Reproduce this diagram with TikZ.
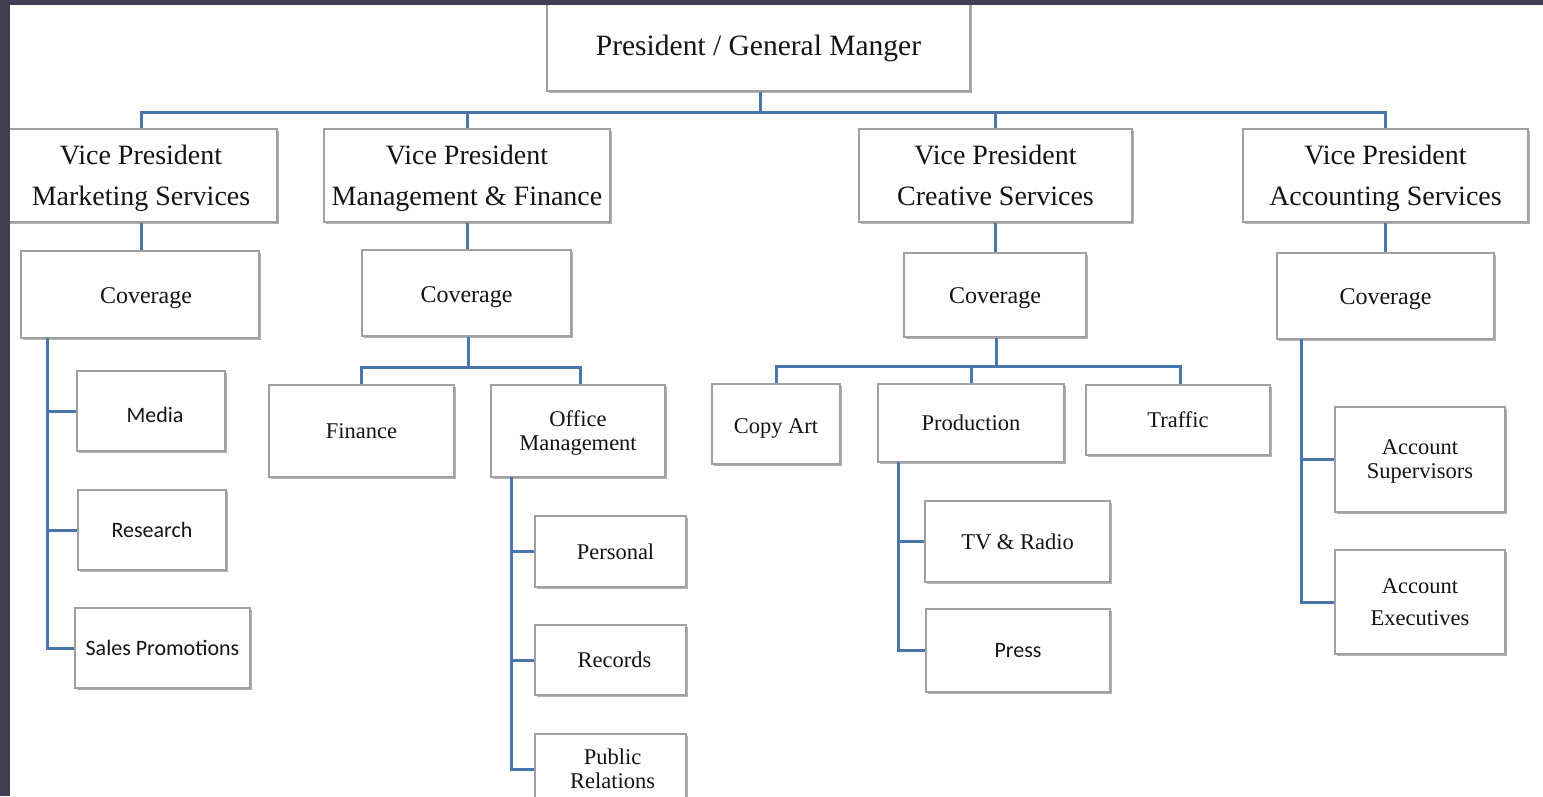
\documentclass[tikz,border=0pt]{standalone}
\usepackage{fontspec}
\setmainfont{Liberation Serif}
\newfontfamily\calfont{Carlito}
\usetikzlibrary{shadows}
\definecolor{bandcol}{RGB}{64,62,82}
\definecolor{linkblue}{RGB}{74,118,176}
\definecolor{boxline}{RGB}{160,160,160}
\definecolor{txt}{RGB}{20,20,20}
% lower a one-line text: #1 = extra height, #2 = text
\newcommand\lowtxt[2]{\raisebox{0pt}[\dimexpr\height+#1\relax][0pt]{#2}}
\tikzset{
  box/.style={draw=boxline, line width=1.1pt, fill=white, inner sep=0pt, align=center, text=txt,
    drop shadow={shadow xshift=1.8pt, shadow yshift=-2.2pt, fill=black, opacity=0.3},
    font=\fontsize{22.5}{24}\selectfont},
  vpbox/.style={box, font=\fontsize{28}{41}\selectfont},
  covbox/.style={box, font=\fontsize{24}{26}\selectfont},
  sansbox/.style={box, font=\calfont\fontsize{22}{24}\selectfont},
  conn/.style={draw=linkblue, line width=3pt}
}
\begin{document}
\begin{tikzpicture}[x=1pt,y=-1pt]
\useasboundingbox (0,0) rectangle (1543,796);
\clip (0,0) rectangle (1543,796);
\fill[white] (0,0) rectangle (1543,796);

% nodes
\node[box, font=\fontsize{29.5}{30}\selectfont, minimum width=423, minimum height=88] (pres) at (758.5,47) {\raisebox{0pt}[\height][3pt]{President / General Manger}};

\node[vpbox, minimum width=272, minimum height=93] (vp1) at (141,175.5) {Vice President\\\smash{Marketing Services}};
\node[vpbox, minimum width=286, minimum height=93] (vp2) at (467,175.5) {Vice President\\\smash{Management \& Finance}};
\node[vpbox, minimum width=273, minimum height=93] (vp3) at (995.5,175.5) {Vice President\\\smash{Creative Services}};
\node[vpbox, minimum width=285, minimum height=93] (vp4) at (1385.5,175.5) {Vice President\\\smash{Accounting Services}};

\node[covbox, minimum width=238, minimum height=87] (cov1) at (140,294.5) {\hspace*{12pt}\lowtxt{3pt}{Coverage}};
\node[covbox, minimum width=209, minimum height=86] (cov2) at (466.5,293) {\lowtxt{3pt}{Coverage}};
\node[covbox, minimum width=182, minimum height=84] (cov3) at (995,295) {\lowtxt{2pt}{Coverage}};
\node[covbox, minimum width=217, minimum height=86] (cov4) at (1385.5,296) {\lowtxt{1pt}{Coverage}};

\node[sansbox, minimum width=148, minimum height=80] (media) at (151,411) {\hspace*{8pt}\raisebox{0pt}[\dimexpr\height+8pt\relax][\depth]{Media}};
\node[sansbox, minimum width=148, minimum height=80] (research) at (152,530) {Research};
\node[sansbox, minimum width=175, minimum height=80] (sales) at (162.5,648) {Sales Promotions};

\node[box, minimum width=185, minimum height=92] (finance) at (361.5,431) {Finance};
\node[box, minimum width=174, minimum height=92] (office) at (578,431) {Office\\\smash{Management}};
\node[box, minimum width=151, minimum height=71] (personal) at (610.5,551.5) {\hspace*{10pt}Personal};
\node[box, minimum width=151, minimum height=70] (records) at (610.5,660) {\hspace*{8pt}Records};
\node[box, minimum width=151, minimum height=70] (public) at (610.5,769) {\hspace*{4pt}Public\\\hspace*{4pt}Relations};

\node[box, minimum width=128, minimum height=80] (copyart) at (776,424) {\lowtxt{5pt}{Copy Art}};
\node[box, minimum width=186, minimum height=78] (production) at (971,423) {Production};
\node[box, minimum width=184, minimum height=70] (traffic) at (1178,420) {Traffic};
\node[box, minimum width=185, minimum height=81] (tv) at (1017.5,541.5) {TV \& Radio};
\node[sansbox, minimum width=184, minimum height=83] (press) at (1018,650.5) {Press};

\node[box, minimum width=170, minimum height=105] (acsup) at (1420,459.5) {Account\\\smash{Supervisors}};
\node[box, font=\fontsize{22.5}{32}\selectfont, minimum width=170, minimum height=104] (acexe) at (1420,602) {Account\\Executives};

% coordinates for buses and spines
\coordinate (topbus) at (760,112);
\coordinate (bus2) at (468,367);
\coordinate (bus3) at (996,366);
\coordinate (sp1) at (47,338);
\coordinate (sp2) at (511,477);
\coordinate (sp3) at (898,462);
\coordinate (sp4) at (1301,339);

% connectors
\draw[conn] (topbus |- pres.south) -- (topbus);
\draw[conn] (vp1.north) |- (topbus) -| (vp4.north);
\draw[conn] (vp2.north) -- (vp2.north |- topbus);
\draw[conn] (vp3.north) -- (vp3.north |- topbus);

\draw[conn] (vp1.south) -- (cov1.north -| vp1.south);
\draw[conn] (vp2.south) -- (cov2.north -| vp2.south);
\draw[conn] (vp3.south) -- (cov3.north -| vp3.south);
\draw[conn] (vp4.south) -- (cov4.north -| vp4.south);

\draw[conn] (sp1) |- (sales.west);
\draw[conn] (media.west) -- (media.west -| sp1);
\draw[conn] (research.west) -- (research.west -| sp1);

\draw[conn] (cov2.south -| bus2) -- (bus2);
\draw[conn] (finance.north) |- (bus2) -| ([xshift=2pt]office.north);
\draw[conn] (sp2) |- (public.west);
\draw[conn] (personal.west) -- (personal.west -| sp2);
\draw[conn] (records.west) -- (records.west -| sp2);

\draw[conn] (cov3.south -| bus3) -- (bus3);
\draw[conn] (copyart.north) |- (bus3) -| ([xshift=2pt]traffic.north);
\draw[conn] (production.north) -- (production.north |- bus3);
\draw[conn] (sp3) |- (press.west);
\draw[conn] (tv.west) -- (tv.west -| sp3);

\draw[conn] (sp4) |- (acexe.west);
\draw[conn] (acsup.west) -- (acsup.west -| sp4);

% dark frame bands
\fill[bandcol] (0,0) rectangle (1543,5);
\fill[bandcol] (0,0) rectangle (10,796);
\end{tikzpicture}
\end{document}
